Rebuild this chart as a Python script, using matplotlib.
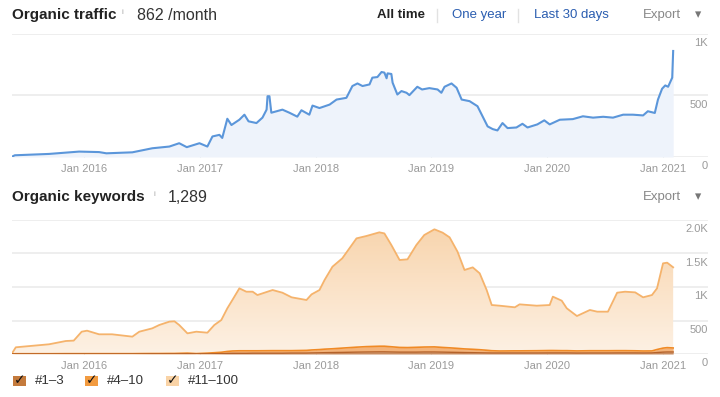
import numpy as np
import pandas as pd
import matplotlib
matplotlib.use("Agg")
from matplotlib import pyplot as plt
import matplotlib.dates as mdates
from matplotlib import transforms
from matplotlib.patches import Rectangle
from matplotlib.lines import Line2D

plt.rcParams['font.family'] = ['Liberation Sans', 'DejaVu Sans']

# ---- data -------------------------------------------------------------
traffic_dates = [
    "2015-05-18", "2015-05-27", "2015-09-12", "2015-12-16", "2016-02-17",
    "2016-03-11", "2016-06-01", "2016-08-03", "2016-09-26", "2016-10-27",
    "2016-11-20", "2016-12-30", "2017-01-24", "2017-02-09", "2017-03-03",
    "2017-03-12", "2017-03-28", "2017-04-10", "2017-05-05", "2017-05-21",
    "2017-06-03", "2017-06-28", "2017-07-17", "2017-07-30", "2017-08-02",
    "2017-08-08", "2017-08-14", "2017-09-18", "2017-10-10", "2017-11-04",
    "2017-11-17", "2017-12-12", "2017-12-22", "2018-01-13", "2018-02-14",
    "2018-03-08", "2018-04-08", "2018-04-27", "2018-05-13", "2018-05-29",
    "2018-06-20", "2018-06-29", "2018-07-15", "2018-07-28", "2018-08-06",
    "2018-08-13", "2018-08-16", "2018-08-28", "2018-09-01", "2018-09-16",
    "2018-09-29", "2018-10-15", "2018-10-24", "2018-11-18", "2018-12-03",
    "2018-12-26", "2019-01-21", "2019-02-02", "2019-02-12", "2019-03-06",
    "2019-03-22", "2019-04-07", "2019-05-02", "2019-05-27", "2019-06-12",
    "2019-06-28", "2019-07-14", "2019-07-29", "2019-08-14", "2019-08-30",
    "2019-09-27", "2019-10-16", "2019-11-01", "2019-12-02", "2019-12-24",
    "2020-01-10", "2020-02-11", "2020-03-23", "2020-04-24", "2020-05-26",
    "2020-06-27", "2020-07-28", "2020-08-29", "2020-09-29", "2020-10-31",
    "2020-11-15", "2020-12-07", "2020-12-17", "2020-12-30", "2021-01-09",
    "2021-01-18", "2021-01-31", "2021-02-03",
]
traffic = [
    3, 14, 25, 44, 40, 30, 38, 71, 85, 112,
    80, 112, 85, 167, 180, 155, 311, 260, 303, 344,
    290, 276, 320, 385, 494, 494, 360, 385, 360, 328,
    380, 344, 418, 398, 426, 467, 481, 577, 598, 577,
    590, 645, 650, 691, 686, 640, 680, 675, 604, 508,
    536, 522, 503, 571, 549, 560, 549, 522, 571, 598,
    563, 467, 454, 413, 331, 249, 227, 216, 276, 235,
    240, 270, 240, 265, 298, 265, 303, 308, 331, 320,
    327, 320, 344, 344, 338, 372, 358, 467, 555, 582,
    571, 645, 862,
]

kw_dates = [
    "2015-05-18", "2015-05-30", "2015-09-12", "2015-11-04", "2015-11-29",
    "2015-12-24", "2016-01-10", "2016-02-17", "2016-03-29", "2016-06-01",
    "2016-06-23", "2016-08-03", "2016-08-25", "2016-09-26", "2016-10-12",
    "2016-10-27", "2016-11-22", "2016-12-20", "2017-01-24", "2017-02-15",
    "2017-03-09", "2017-03-28", "2017-04-13", "2017-05-05", "2017-05-27",
    "2017-06-16", "2017-07-01", "2017-08-18", "2017-09-18", "2017-10-17",
    "2017-12-03", "2017-12-19", "2018-01-13", "2018-01-29", "2018-02-23",
    "2018-03-26", "2018-05-10", "2018-06-10", "2018-07-21", "2018-08-06",
    "2018-08-28", "2018-09-23", "2018-10-18", "2018-11-15", "2018-12-10",
    "2019-01-11", "2019-02-06", "2019-02-28", "2019-03-25", "2019-04-16",
    "2019-05-12", "2019-06-03", "2019-06-25", "2019-07-11", "2019-08-05",
    "2019-09-22", "2019-10-07", "2019-11-30", "2020-01-10", "2020-01-20",
    "2020-02-17", "2020-03-04", "2020-04-05", "2020-05-16", "2020-06-08",
    "2020-07-12", "2020-08-10", "2020-09-04", "2020-10-06", "2020-10-31",
    "2020-11-28", "2020-12-14", "2021-01-02", "2021-01-15", "2021-02-03",
]
pos_1_3 = [
    0, 1, 1, 1, 1, 1, 1, 1, 1, 1,
    1, 2, 2, 2, 2, 2, 3, 2, 3, 4,
    6, 8, 10, 10, 10, 12, 12, 12, 12, 14,
    14, 16, 18, 20, 22, 24, 28, 30, 32, 32,
    30, 28, 28, 28, 30, 30, 28, 26, 24, 22,
    20, 18, 16, 15, 15, 15, 15, 15, 16, 16,
    16, 16, 14, 15, 15, 15, 16, 16, 16, 15,
    16, 22, 28, 30, 30,
]
pos_4_10 = [
    2, 3, 3, 4, 4, 4, 4, 4, 4, 4,
    5, 5, 5, 6, 6, 8, 10, 4, 10, 15,
    20, 30, 35, 38, 38, 36, 36, 38, 38, 36,
    40, 44, 48, 52, 56, 64, 74, 80, 84, 84,
    78, 70, 68, 72, 74, 76, 70, 66, 60, 54,
    50, 46, 40, 34, 30, 32, 32, 34, 36, 36,
    34, 34, 32, 34, 34, 34, 34, 34, 32, 30,
    30, 45, 60, 65, 60,
]
pos_11_100 = [
    8, 96, 141, 189, 195, 328, 343, 289, 289, 254,
    327, 376, 426, 475, 480, 423, 295, 327, 305, 414,
    481, 644, 761, 932, 882, 882, 832, 905, 865, 796,
    752, 830, 889, 1032, 1225, 1340, 1624, 1651, 1700, 1684,
    1519, 1305, 1317, 1527, 1672, 1755, 1713, 1649, 1443, 1178,
    1223, 1140, 899, 682, 676, 650, 694, 672, 679, 804,
    746, 632, 521, 608, 583, 583, 865, 880, 872, 801,
    834, 913, 1265, 1268, 1204,
]

traffic_ticks = [0, 500, 1000]
traffic_tick_labels = ["0", "500", "1K"]
kw_ticks = [0, 500, 1000, 1500, 2000]
kw_tick_labels = ["0", "500", "1K", "1.5K", "2.0K"]
year_ticks = ["2016-01-01", "2017-01-01", "2018-01-01", "2019-01-01",
              "2020-01-01", "2021-01-01"]
legend_labels = ["#1\u20133", "#4\u201310", "#11\u2013100"]

# ---- figure -----------------------------------------------------------
W, H = 720, 397
fig = plt.figure(figsize=(7.2, 3.97), dpi=100)
fig.patch.set_facecolor("white")

t_dates = pd.to_datetime(traffic_dates)
k_dates = pd.to_datetime(kw_dates)
x_left = pd.Timestamp("2015-05-18")
x_right = pd.Timestamp("2021-05-24")

GRID = "#ebebeb"
TICK_TXT = "#9a9a9a"


def px_axes(x0, y0, x1, y1):
    # pixel box (top-left origin) -> figure axes
    return fig.add_axes([x0 / W, 1 - y1 / H, (x1 - x0) / W, (y1 - y0) / H])


def style_axes(ax, yticks, ylabels, ymax):
    ax.set_xlim(x_left, x_right)
    ax.set_ylim(0, ymax)
    for s in ax.spines.values():
        s.set_visible(False)
    ax.set_yticks(yticks)
    ax.yaxis.set_tick_params(length=0, labelleft=False)
    ax.grid(axis="y", color=GRID, lw=1.2)
    ax.set_axisbelow(True)
    ax.set_xticks(pd.to_datetime(year_ticks))
    ax.xaxis.set_major_formatter(mdates.DateFormatter("%b %Y"))
    ax.tick_params(axis="x", direction="in", length=4, color="#dddddd",
                   labelsize=8, labelcolor=TICK_TXT, pad=5)
    trans = transforms.offset_copy(ax.get_yaxis_transform(), fig=fig,
                                   x=0, y=-3, units="points")
    for v, lab in zip(yticks, ylabels):
        ax.text(1.0, v, lab, transform=trans, ha="right", va="top",
                fontsize=8, color=TICK_TXT)


# top: organic traffic
ax1 = px_axes(12, 34, 708, 157)
style_axes(ax1, traffic_ticks, traffic_tick_labels, 1000)
ax1.fill_between(t_dates, 0, traffic, color="#eef3fb", lw=0)
ax1.plot(t_dates, traffic, color="#5b96da", lw=1.5)

# bottom: organic keywords (stacked)
ax2 = px_axes(12, 220, 708, 354)
style_axes(ax2, kw_ticks, kw_tick_labels, 2000)
b1 = np.array(pos_1_3)
b2 = b1 + np.array(pos_4_10)
b3 = b2 + np.array(pos_11_100)

poly = ax2.fill_between(k_dates, b2, b3, color="none", lw=0)
grad = np.linspace(0, 1, 256).reshape(-1, 1)
cmap = matplotlib.colors.LinearSegmentedColormap.from_list(
    "peach", ["#fdf1e4", "#f8d3aa"])
xl = mdates.date2num(x_left)
xr = mdates.date2num(x_right)
im = ax2.imshow(grad, cmap=cmap, aspect="auto", origin="lower",
                extent=[xl, xr, 0, 2000], zorder=1)
im.set_clip_path(poly.get_paths()[0], transform=ax2.transData)
ax2.set_xlim(x_left, x_right)
ax2.set_ylim(0, 2000)
ax2.plot(k_dates, b3, color="#f5b36c", lw=1.3, zorder=3)
ax2.fill_between(k_dates, b1, b2, color="#f3b37a", lw=0, zorder=2)
ax2.plot(k_dates, b2, color="#f08a25", lw=1.2, zorder=3)
ax2.fill_between(k_dates, 0, b1, color="#c98b5e", lw=0, zorder=2)
ax2.plot(k_dates, b1, color="#b4622a", lw=1.0, zorder=3)

# ---- header texts -----------------------------------------------------
def ftext(x, y, s, **kw):
    fig.text(x / W, 1 - y / H, s, va="center", **kw)

ftext(12, 15, "Organic traffic", fontsize=11, fontweight="bold", color="#222222")
ftext(122, 12, "i", fontsize=6, color="#aaaaaa")
ftext(137, 15, "862 /month", fontsize=11.5, color="#333333")
ftext(377, 15, "All time", fontsize=9.5, fontweight="bold", color="#222222")
ftext(452, 15, "One year", fontsize=9.5, color="#2a5db0")
ftext(534, 15, "Last 30 days", fontsize=9.5, color="#2a5db0")
ftext(643, 15, "Export", fontsize=9.5, color="#888888")
ftext(695, 15, "\u25BE", fontsize=9, color="#777777", family="DejaVu Sans")
for sx in (437, 518):
    fig.add_artist(Line2D([sx / W, sx / W], [1 - 9 / H, 1 - 22 / H],
                          color="#e2e2e2", lw=1))

ftext(12, 197, "Organic keywords", fontsize=11, fontweight="bold", color="#222222")
ftext(154, 194, "i", fontsize=6, color="#aaaaaa")
ftext(168, 197, "1,289", fontsize=11.5, color="#333333")
ftext(643, 197, "Export", fontsize=9.5, color="#888888")
ftext(695, 197, "\u25BE", fontsize=9, color="#777777", family="DejaVu Sans")

# ---- legend -------------------------------------------------------------
legend_colors = ["#c47a3c", "#f29b40", "#f9d3a6"]
legend_x = [13, 85, 166]
for lx, col, lab in zip(legend_x, legend_colors, legend_labels):
    fig.add_artist(Rectangle((lx / W, 1 - 386 / H), 13 / W, 10 / H,
                             facecolor=col, edgecolor="none"))
    ftext(lx + 1, 380, "\u2713", fontsize=10, color="#111111",
          family="DejaVu Sans")
    ftext(lx + 22, 381, lab, fontsize=9.5, color="#333333")

fig.savefig("out.png", dpi=100)
